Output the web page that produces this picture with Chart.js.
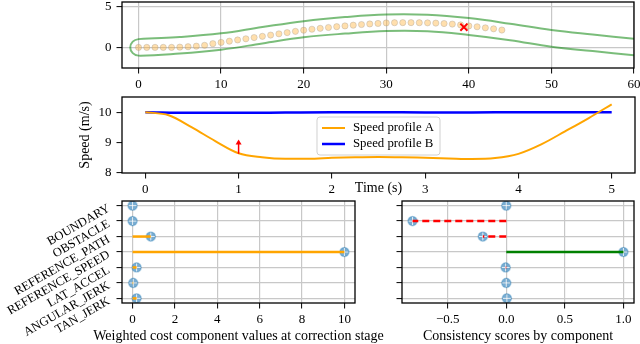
<!DOCTYPE html>
<html>
<head>
<meta charset="utf-8">
<script src="https://cdn.jsdelivr.net/npm/chart.js@4.4.1/dist/chart.umd.min.js"></script>
<style>
  html, body { margin: 0; padding: 0; background: #fff; }
  #wrap { position: relative; width: 640px; height: 344px; overflow: hidden; }
  #wrap canvas { position: absolute; left: -30px; top: -30px; }
</style>
</head>
<body>
<div id="wrap">
  <canvas id="trackChart" width="700" height="404"></canvas>
  <canvas id="speedChart" width="700" height="404"></canvas>
  <canvas id="costChart" width="700" height="404"></canvas>
  <canvas id="consChart" width="700" height="404"></canvas>
</div>
<script>
// ---------- data ----------
// road outline (green), sampled every 5 m
const roadX = [0, 5, 10, 15, 20, 25, 30, 35, 40, 45, 50, 55, 60];
const roadUpper = [1.0, 1.25, 1.7, 2.47, 3.18, 3.67, 3.98, 3.95, 3.55, 2.87, 2.1, 1.55, 1.05];
const roadLower = [-1.0, -0.75, -0.28, 0.47, 1.22, 1.67, 1.98, 1.95, 1.5, 0.87, 0.08, -0.45, -0.97];
const capX = [-0.7, -1.0, -0.7];
const capY = [0.7, 0.0, -0.7];

// planned path points (orange dots)
const pathX = [0, 1, 2, 3, 4, 5, 6, 7, 8, 9, 10, 11, 12, 13, 14, 15, 16, 17, 18, 19, 20, 21, 22,
  23, 24, 25, 26, 27, 28, 29, 30, 31, 32, 33, 34, 35, 36, 37, 38, 39, 40, 41, 42, 43, 44];
const pathY = [0, 0, 0, 0, 0, 0.03, 0.08, 0.15, 0.25, 0.45, 0.6, 0.75, 0.9, 1.04, 1.19, 1.34, 1.49,
  1.64, 1.79, 1.94, 2.08, 2.2, 2.31, 2.41, 2.51, 2.6, 2.69, 2.77, 2.84, 2.9, 2.96, 2.99, 3.0, 3.0,
  2.99, 2.97, 2.94, 2.89, 2.82, 2.72, 2.6, 2.5, 2.37, 2.25, 2.1];
const crossPoint = { x: 39.4, y: 2.45 };
const trackXTicks = [0, 10, 20, 30, 40, 50, 60];
const trackYTicks = [0, 5];

// speed profiles
const timeA = [0, 0.25, 0.5, 0.75, 1, 1.25, 1.5, 1.75, 2, 2.25, 2.5, 2.75, 3, 3.25, 3.5, 3.75, 4, 4.25, 4.5, 4.75, 5];
const speedA = [10.0, 9.9, 9.5, 9.05, 8.65, 8.52, 8.47, 8.47, 8.5, 8.52, 8.53, 8.52, 8.5, 8.48, 8.46, 8.49, 8.63, 8.95, 9.37, 9.8, 10.26];
const timeB = [0, 0.5, 1, 1.5, 2, 2.5, 3, 3.5, 4, 4.5, 5];
const speedB = [10.0, 9.98, 9.98, 9.99, 10.0, 10.0, 9.99, 9.99, 10.0, 10.0, 10.0];
const arrowTime = 1, arrowFrom = 8.63, arrowTo = 9.1;
const speedXTicks = [0, 1, 2, 3, 4, 5];
const speedYTicks = [8, 9, 10];

// cost components
const components = ['BOUNDARY', 'OBSTACLE', 'REFERENCE_PATH', 'REFERENCE_SPEED', 'LAT_ACCEL', 'ANGULAR_JERK', 'TAN_JERK'];
const weightedCost = [0, 0, 0.86, 10.0, 0.19, 0.03, 0.19];
const consistency = [0, -0.8, -0.2, 1.0, -0.005, 0, 0.005];
const costXTicks = [0, 2, 4, 6, 8, 10];
const consXTicks = [-0.5, 0, 0.5, 1.0];
const rowTicks = [0, 1, 2, 3, 4, 5, 6];

// ---------- helpers ----------
const SERIF = "'Liberation Serif', 'DejaVu Serif', serif";
Chart.defaults.font.family = SERIF;
Chart.defaults.font.size = 13;
Chart.defaults.color = '#000';
Chart.defaults.animation = false;

const GRID = '#c8c8c8';
const OFF = 30; // canvases are 30px larger on every side than the page

function fixSize(size) {
  return function (scale) {
    if (scale.isHorizontal()) scale.height = size; else scale.width = size;
    scale.paddingLeft = scale.paddingRight = scale.paddingTop = scale.paddingBottom = 0;
  };
}
function useTicks(values) {
  return function (scale) { scale.ticks = values.map(v => ({ value: v })); };
}
// page-pixel chart area -> layout padding (x axis 30px tall, y axis 40px wide)
function areaPadding(l, t, r, b) {
  return { left: l + OFF - 40, top: t + OFF, right: 640 + OFF - r, bottom: 344 + OFF - b - 30 };
}
function axis(min, max, ticks, opts) {
  opts = opts || {};
  return {
    type: 'linear', min: min, max: max, reverse: !!opts.reverse,
    afterBuildTicks: useTicks(ticks),
    afterFit: fixSize(opts.horizontal ? 30 : 40),
    border: { display: false },
    grid: { display: true, drawOnChartArea: !!opts.grid, color: GRID, lineWidth: 1.2,
            tickColor: '#000', tickLength: 5.5, tickWidth: 1 },
    ticks: Object.assign({ padding: opts.horizontal ? 3 : 5, autoSkip: false }, opts.ticks || {})
  };
}

// frame, axis titles and rotated row labels
Chart.register({
  id: 'figText',
  afterDraw(chart, args, opts) {
    const { ctx, chartArea: a } = chart;
    ctx.save();
    ctx.strokeStyle = '#000';
    ctx.lineWidth = 1.3;
    ctx.strokeRect(a.left, a.top, a.right - a.left, a.bottom - a.top);
    ctx.fillStyle = '#000';
    ctx.font = '14px ' + SERIF;
    ctx.textAlign = 'center';
    ctx.textBaseline = 'middle';
    if (opts.xLabel) ctx.fillText(opts.xLabel, (a.left + a.right) / 2, a.bottom + opts.xGap);
    if (opts.yLabel) {
      ctx.save();
      ctx.translate(a.left - opts.yGap, (a.top + a.bottom) / 2);
      ctx.rotate(-Math.PI / 2);
      ctx.fillText(opts.yLabel, 0, 0);
      ctx.restore();
    }
    if (opts.rowLabels) {
      const y = chart.scales.y;
      ctx.font = '12.5px ' + SERIF;
      ctx.textAlign = 'right';
      opts.rowLabels.forEach((lab, i) => {
        ctx.save();
        ctx.translate(a.left - 13, y.getPixelForValue(i) + 2);
        ctx.rotate(-Math.PI / 6);
        ctx.fillText(lab, 0, 0);
        ctx.restore();
      });
    }
    ctx.restore();
  }
});

const noChrome = { legend: { display: false }, tooltip: { enabled: false } };

// ---------- track plot ----------
const outline = [];
for (let i = roadX.length - 1; i >= 0; i--) outline.push({ x: roadX[i], y: roadUpper[i] });
capX.forEach((x, i) => outline.push({ x: x, y: capY[i] }));
roadX.forEach((x, i) => outline.push({ x: x, y: roadLower[i] }));

new Chart(document.getElementById('trackChart'), {
  type: 'scatter',
  data: {
    datasets: [
      { data: [crossPoint], pointStyle: 'crossRot', pointRadius: 5, borderColor: '#ff0000', borderWidth: 2 },
      { data: pathX.map((x, i) => ({ x: x, y: pathY[i] })), pointRadius: 3.1,
        backgroundColor: 'rgba(255,172,40,0.38)', borderColor: 'rgba(160,155,150,0.35)', borderWidth: 1 },
      { data: outline, showLine: true, pointRadius: 0, tension: 0.4,
        borderColor: 'rgba(0,128,0,0.52)', borderWidth: 2 }
    ]
  },
  options: {
    responsive: false,
    layout: { padding: areaPadding(122, 2, 634, 68) },
    scales: {
      x: axis(-2, 60, trackXTicks, { horizontal: true, grid: true }),
      y: axis(-2.5, 5.5, trackYTicks, { grid: true })
    },
    plugins: noChrome
  }
});

// ---------- speed plot ----------
const speedLegend = {
  id: 'speedLegend',
  afterDraw(chart) {
    const { ctx, chartArea: a } = chart;
    const sets = chart.data.datasets.filter(d => d.label);
    ctx.save();
    ctx.font = '12.8px ' + SERIF;
    const textW = Math.max(...sets.map(d => ctx.measureText(d.label).width));
    const w = 36 + textW + 6, rowH = 16, h = sets.length * rowH + 6;
    const x0 = (a.left + a.right) / 2 - w / 2, y0 = (a.top + a.bottom) / 2 - h / 2 + 1;
    ctx.fillStyle = 'rgba(255,255,255,0.8)';
    ctx.strokeStyle = '#d0d0d0';
    ctx.lineWidth = 1;
    ctx.beginPath();
    ctx.roundRect(x0, y0, w, h, 3);
    ctx.fill();
    ctx.stroke();
    ctx.textAlign = 'left';
    ctx.textBaseline = 'middle';
    sets.forEach((d, i) => {
      const y = y0 + 3 + rowH * i + rowH / 2;
      ctx.strokeStyle = d.borderColor;
      ctx.lineWidth = d.borderWidth;
      ctx.beginPath();
      ctx.moveTo(x0 + 5, y);
      ctx.lineTo(x0 + 28, y);
      ctx.stroke();
      ctx.fillStyle = '#000';
      ctx.fillText(d.label, x0 + 36, y);
    });
    ctx.restore();
  }
};
const speedArrow = {
  id: 'speedArrow',
  afterDatasetsDraw(chart) {
    const { ctx, scales } = chart;
    const x = scales.x.getPixelForValue(arrowTime);
    const y1 = scales.y.getPixelForValue(arrowFrom), y2 = scales.y.getPixelForValue(arrowTo);
    ctx.save();
    ctx.strokeStyle = '#ff0000';
    ctx.fillStyle = '#ff0000';
    ctx.lineWidth = 1.5;
    ctx.beginPath();
    ctx.moveTo(x, y1);
    ctx.lineTo(x, y2 + 3);
    ctx.stroke();
    ctx.beginPath();
    ctx.moveTo(x, y2);
    ctx.lineTo(x - 3, y2 + 5);
    ctx.lineTo(x + 3, y2 + 5);
    ctx.closePath();
    ctx.fill();
    ctx.restore();
  }
};

new Chart(document.getElementById('speedChart'), {
  type: 'scatter',
  data: {
    datasets: [
      { label: 'Speed profile A', data: timeA.map((t, i) => ({ x: t, y: speedA[i] })), showLine: true,
        pointRadius: 0, borderColor: '#ffa500', borderWidth: 2, cubicInterpolationMode: 'monotone' },
      { label: 'Speed profile B', data: timeB.map((t, i) => ({ x: t, y: speedB[i] })), showLine: true,
        pointRadius: 0, borderColor: '#0000ff', borderWidth: 2.5, cubicInterpolationMode: 'monotone' }
    ]
  },
  options: {
    responsive: false,
    layout: { padding: areaPadding(122, 97, 635, 173) },
    scales: {
      x: axis(-0.25, 5.25, speedXTicks, { horizontal: true }),
      y: axis(8, 10.5, speedYTicks)
    },
    plugins: Object.assign({ figText: { xLabel: 'Time (s)', xGap: 15, yLabel: 'Speed (m/s)', yGap: 37 } }, noChrome)
  },
  plugins: [speedArrow, speedLegend]
});

// ---------- lollipop plots ----------
function lollipops(values, colorFor, dashFor) {
  const lines = values.map((v, i) => ({
    data: [{ x: 0, y: i }, { x: v, y: i }], showLine: true, pointRadius: 0,
    borderColor: colorFor(v), borderDash: dashFor(v), borderWidth: 2.5
  }));
  const pts = values.map((v, i) => ({ x: v, y: i }));
  const cross = { data: pts, pointStyle: 'cross', pointRadius: 4, borderColor: 'rgba(255,255,255,0.85)', borderWidth: 1 };
  const circle = { data: pts, pointStyle: 'circle', pointRadius: 4.6,
    backgroundColor: 'rgba(31,119,180,0.6)', borderColor: 'rgba(31,119,180,0.3)', borderWidth: 1.5 };
  return lines.concat([cross, circle]);
}

new Chart(document.getElementById('costChart'), {
  type: 'scatter',
  data: { datasets: lollipops(weightedCost, () => '#ffa500', () => []) },
  options: {
    responsive: false,
    layout: { padding: areaPadding(122, 201, 355, 303) },
    scales: {
      x: axis(-0.5, 10.5, costXTicks, { horizontal: true, grid: true }),
      y: axis(-0.3, 6.3, rowTicks, { grid: true, reverse: true, ticks: { display: false } })
    },
    plugins: Object.assign({ figText: { xLabel: 'Weighted cost component values at correction stage',
      xGap: 33, rowLabels: components } }, noChrome)
  }
});

new Chart(document.getElementById('consChart'), {
  type: 'scatter',
  data: { datasets: lollipops(consistency, v => (v < 0 ? '#ff0000' : '#008000'), v => (v < 0 ? [7, 4] : [])) },
  options: {
    responsive: false,
    layout: { padding: areaPadding(402, 201, 634, 303) },
    scales: {
      x: axis(-0.89, 1.09, consXTicks, { horizontal: true, grid: true,
        ticks: { callback: v => v.toFixed(1).replace('-', '\u2212') } }),
      y: axis(-0.3, 6.3, rowTicks, { grid: true, reverse: true, ticks: { display: false } })
    },
    plugins: Object.assign({ figText: { xLabel: 'Consistency scores by component', xGap: 33 } }, noChrome)
  }
});
</script>
</body>
</html>
